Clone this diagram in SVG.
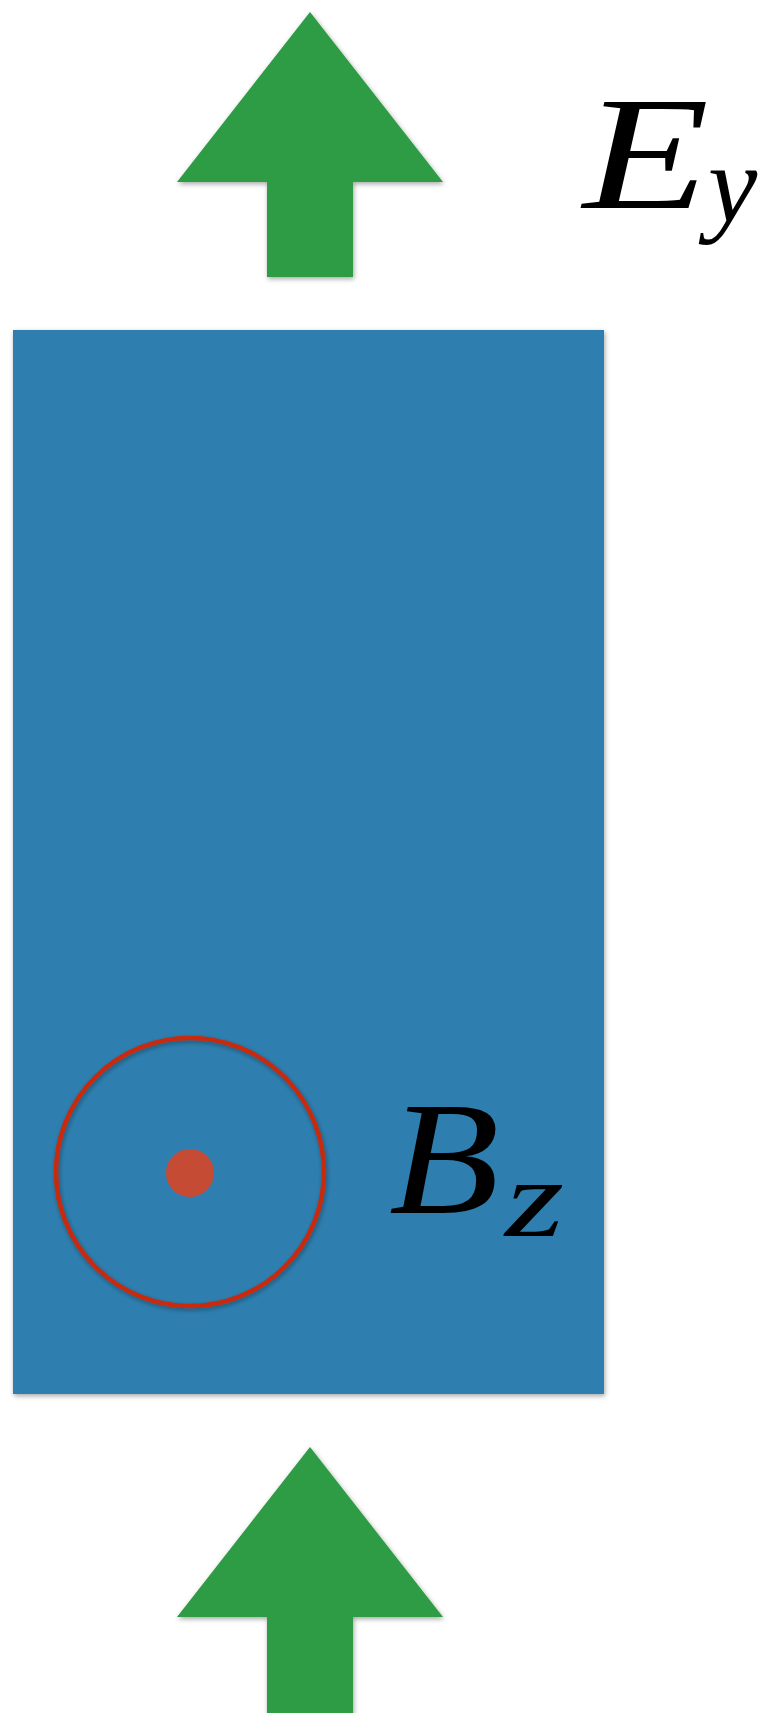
<svg xmlns="http://www.w3.org/2000/svg" width="766" height="1713" viewBox="0 0 766 1713">
<defs>
<filter id="sh" x="-10%" y="-10%" width="120%" height="120%">
<feDropShadow dx="1" dy="2" stdDeviation="2.5" flood-color="#000" flood-opacity="0.35"/>
</filter>
<style>
.arrow{fill:#2e9b45;filter:url(#sh)}
.lbl{font-family:"Liberation Serif","DejaVu Serif",serif;font-style:italic;fill:#000}
</style>
</defs>
<rect width="766" height="1713" fill="#ffffff"/>
<g id="plate">
<rect x="13" y="330" width="591" height="1064" fill="#2f7fb0" filter="url(#sh)"/>
</g>
<g id="bfield">
<circle cx="190" cy="1172" r="134" fill="none" stroke="#c8290f" stroke-width="4.5" filter="url(#sh)"/>
<circle cx="190" cy="1173" r="24" fill="#c64b35"/>
<text class="lbl" transform="translate(389,1213) scale(1.13,1)" font-size="160">B</text>
<text class="lbl" transform="translate(505,1236) scale(1.37,1)" font-size="111">z</text>
</g>
<g id="connectors">
<polygon id="arrow-top" class="arrow" points="310,12 443,182 353,182 353,277 267,277 267,182 177,182"/>
<polygon id="arrow-bottom" class="arrow" points="310,1447 443,1617 353,1617 353,1720 267,1720 267,1617 177,1617"/>
</g>
<g id="efield">
<text class="lbl" transform="translate(583,208) scale(1.29,1)" font-size="160">E</text>
<text class="lbl" x="708" y="222" font-size="111">y</text>
</g>
</svg>
